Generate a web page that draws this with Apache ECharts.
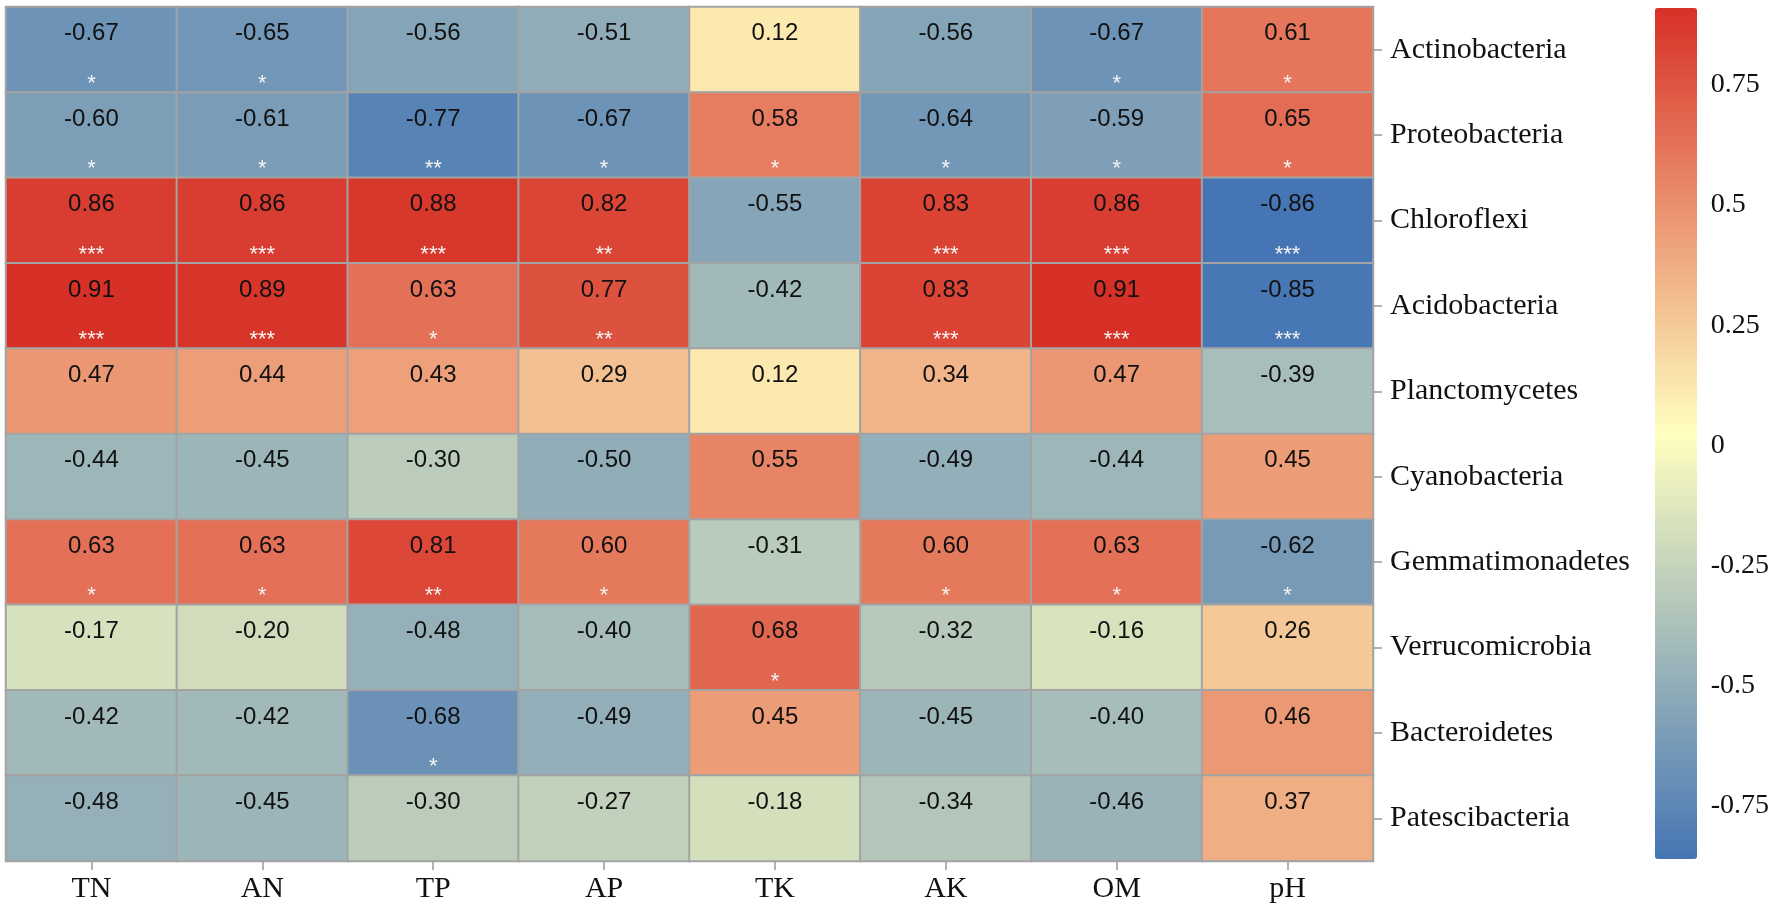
<!DOCTYPE html>
<html>
<head>
<meta charset="utf-8">
<script src="https://cdn.jsdelivr.net/npm/echarts@6/dist/echarts.min.js"></script>
<style>
  html, body { margin: 0; padding: 0; background: #ffffff; }
  #chart { width: 1772px; height: 915px; }
</style>
</head>
<body>
<div id="chart"></div>
<script>
// Soil properties (columns)
const factors = ['TN', 'AN', 'TP', 'AP', 'TK', 'AK', 'OM', 'pH'];
// Bacterial phyla (rows, top to bottom)
const phyla = ['Actinobacteria', 'Proteobacteria', 'Chloroflexi', 'Acidobacteria', 'Planctomycetes',
               'Cyanobacteria', 'Gemmatimonadetes', 'Verrucomicrobia', 'Bacteroidetes', 'Patescibacteria'];

// Correlation coefficients per phylum (order follows factors)
const actinobacteria   = [-0.67, -0.65, -0.56, -0.51,  0.12, -0.56, -0.67,  0.61];
const proteobacteria   = [-0.60, -0.61, -0.77, -0.67,  0.58, -0.64, -0.59,  0.65];
const chloroflexi      = [ 0.86,  0.86,  0.88,  0.82, -0.55,  0.83,  0.86, -0.86];
const acidobacteria    = [ 0.91,  0.89,  0.63,  0.77, -0.42,  0.83,  0.91, -0.85];
const planctomycetes   = [ 0.47,  0.44,  0.43,  0.29,  0.12,  0.34,  0.47, -0.39];
const cyanobacteria    = [-0.44, -0.45, -0.30, -0.50,  0.55, -0.49, -0.44,  0.45];
const gemmatimonadetes = [ 0.63,  0.63,  0.81,  0.60, -0.31,  0.60,  0.63, -0.62];
const verrucomicrobia  = [-0.17, -0.20, -0.48, -0.40,  0.68, -0.32, -0.16,  0.26];
const bacteroidetes    = [-0.42, -0.42, -0.68, -0.49,  0.45, -0.45, -0.40,  0.46];
const patescibacteria  = [-0.48, -0.45, -0.30, -0.27, -0.18, -0.34, -0.46,  0.37];

// Significance marks per phylum
const sigActinobacteria   = ['*', '*', '', '', '', '', '*', '*'];
const sigProteobacteria   = ['*', '*', '**', '*', '*', '*', '*', '*'];
const sigChloroflexi      = ['***', '***', '***', '**', '', '***', '***', '***'];
const sigAcidobacteria    = ['***', '***', '*', '**', '', '***', '***', '***'];
const sigPlanctomycetes   = ['', '', '', '', '', '', '', ''];
const sigCyanobacteria    = ['', '', '', '', '', '', '', ''];
const sigGemmatimonadetes = ['*', '*', '**', '*', '', '*', '*', '*'];
const sigVerrucomicrobia  = ['', '', '', '', '*', '', '', ''];
const sigBacteroidetes    = ['', '', '*', '', '', '', '', ''];
const sigPatescibacteria  = ['', '', '', '', '', '', '', ''];

// Colour bar tick labels
const colorbarTicks = [-0.75, -0.5, -0.25, 0, 0.25, 0.5, 0.75];
const colorMin = -0.86;
const colorMax = 0.91;

const rowValues = [actinobacteria, proteobacteria, chloroflexi, acidobacteria, planctomycetes,
                   cyanobacteria, gemmatimonadetes, verrucomicrobia, bacteroidetes, patescibacteria];
const rowSigs = [sigActinobacteria, sigProteobacteria, sigChloroflexi, sigAcidobacteria, sigPlanctomycetes,
                 sigCyanobacteria, sigGemmatimonadetes, sigVerrucomicrobia, sigBacteroidetes, sigPatescibacteria];

const heatData = [];
rowValues.forEach((row, r) => {
  row.forEach((v, c) => {
    heatData.push({ value: [c, r, v], sig: rowSigs[r][c] });
  });
});

const serif = "'Liberation Serif', 'Times New Roman', serif";
const sans = "'Liberation Sans', Arial, sans-serif";

const chart = echarts.init(document.getElementById('chart'), null, { renderer: 'canvas' });
chart.setOption({
  backgroundColor: '#ffffff',
  animation: false,
  grid: [
    { left: 6, top: 7, width: 1367, height: 854 },
    { left: 1655, top: 8, width: 42, height: 851 }
  ],
  xAxis: [
    {
      gridIndex: 0, type: 'category', data: factors, position: 'bottom',
      axisLine: { show: false },
      axisTick: { show: true, alignWithLabel: true, length: 9, lineStyle: { color: '#999', width: 1.5 } },
      axisLabel: { fontFamily: serif, fontSize: 30, color: '#111', margin: 13 },
      splitLine: { show: false }
    },
    {
      gridIndex: 1, type: 'value', show: false, min: 0, max: 1
    }
  ],
  yAxis: [
    {
      gridIndex: 0, type: 'category', data: phyla, inverse: true, position: 'right',
      axisLine: { show: false },
      axisTick: { show: true, alignWithLabel: true, length: 9, lineStyle: { color: '#999', width: 1.5 } },
      axisLabel: { fontFamily: serif, fontSize: 30, color: '#111', margin: 17 },
      splitLine: { show: false }
    },
    {
      gridIndex: 1, type: 'value', position: 'right', min: colorMin, max: colorMax,
      axisLine: { show: false },
      axisTick: { show: true, inside: true, length: 6, customValues: colorbarTicks,
                  lineStyle: { color: '#ffffff', width: 2 } },
      axisLabel: { show: true, customValues: colorbarTicks, fontFamily: serif, fontSize: 28,
                   color: '#111', margin: 16 },
      splitLine: { show: false }
    },
    {
      gridIndex: 1, type: 'value', position: 'left', min: colorMin, max: colorMax,
      axisLine: { show: false },
      axisTick: { show: true, inside: true, length: 6, customValues: colorbarTicks,
                  lineStyle: { color: '#ffffff', width: 2 } },
      axisLabel: { show: false },
      splitLine: { show: false }
    }
  ],
  visualMap: {
    type: 'continuous',
    min: colorMin, max: colorMax,
    seriesIndex: 0,
    calculable: false,
    orient: 'vertical',
    left: 1655, top: 8,
    padding: 0,
    itemWidth: 42, itemHeight: 851,
    text: null,
    showLabel: false,
    hoverLink: false,
    inRange: { color: ['#4575B4', '#FFFFBF', '#D73027'] },
    z: 1
  },
  series: [
    {
      type: 'heatmap',
      xAxisIndex: 0, yAxisIndex: 0,
      data: heatData,
      itemStyle: { borderColor: '#a3a3a3', borderWidth: 2 },
      emphasis: { disabled: true },
      label: {
        show: true,
        offset: [0, 9],
        formatter: function (p) {
          const v = p.value[2].toFixed(2);
          const s = p.data.sig || ' ';
          return '{v|' + v + '}\n{s|' + s + '}';
        },
        rich: {
          v: { fontFamily: sans, fontSize: 24, color: '#111', lineHeight: 50 },
          s: { fontFamily: sans, fontSize: 22, color: '#f4f4f4', lineHeight: 50 }
        }
      }
    }
  ]
});
</script>
</body>
</html>
